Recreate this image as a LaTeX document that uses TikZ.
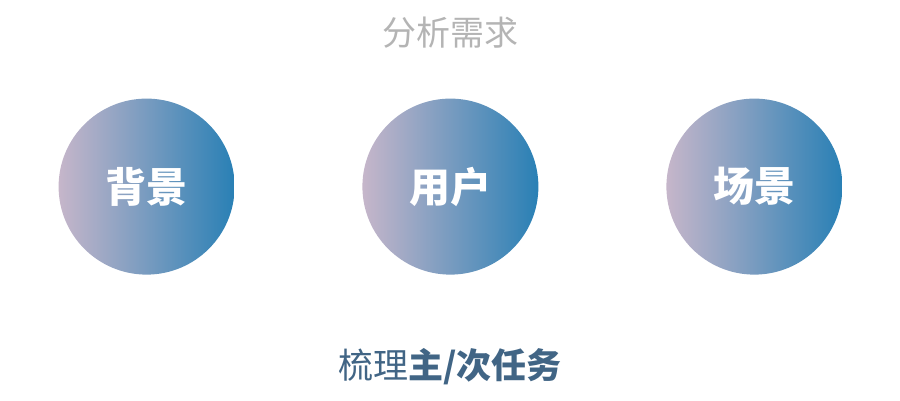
\documentclass[tikz,border=0pt]{standalone}
\usepackage{fontspec}
\setmainfont{Noto Sans CJK SC}
\usetikzlibrary{positioning}
\definecolor{titlegray}{HTML}{B4B4B4}
\definecolor{pinkgray}{HTML}{C6B6CA}
\definecolor{deepblue}{HTML}{2980B5}
\definecolor{taskblue}{HTML}{416585}

\begin{document}
\begin{tikzpicture}[x=1pt, y=-1pt]
		\tikzstyle{Topic}	= [circle, minimum size=176pt, inner sep=0pt, left color=pinkgray, right color=deepblue]
		\tikzstyle{TopicText}	= [white, font=\fontsize{41}{44}\selectfont\bfseries]
		\tikzstyle{Title}	= [titlegray, font=\fontsize{34}{36}\selectfont]
		\tikzstyle{Task}	= [taskblue, font=\fontsize{35}{38}\selectfont]

		\useasboundingbox (0, 0) rectangle (900, 400);

		\node (title) at (450, 33) [Title] {分析需求};

		\node (c1) at (146.6, 186.6) [Topic] {};
		\node (c2) at (450.4, 186.6) [Topic] {};
		\node (c3) at (754.4, 186.6) [Topic] {};
		\node (t1) at (c1) [TopicText] {背景};
		\node (t2) at (c2) [TopicText] {用户};
		\node (t3) at (c3) [TopicText] {场景};

		\node (task) at (450, 367) [Task] {梳理\textbf{主/次任务}};
	\end{tikzpicture}
\end{document}
